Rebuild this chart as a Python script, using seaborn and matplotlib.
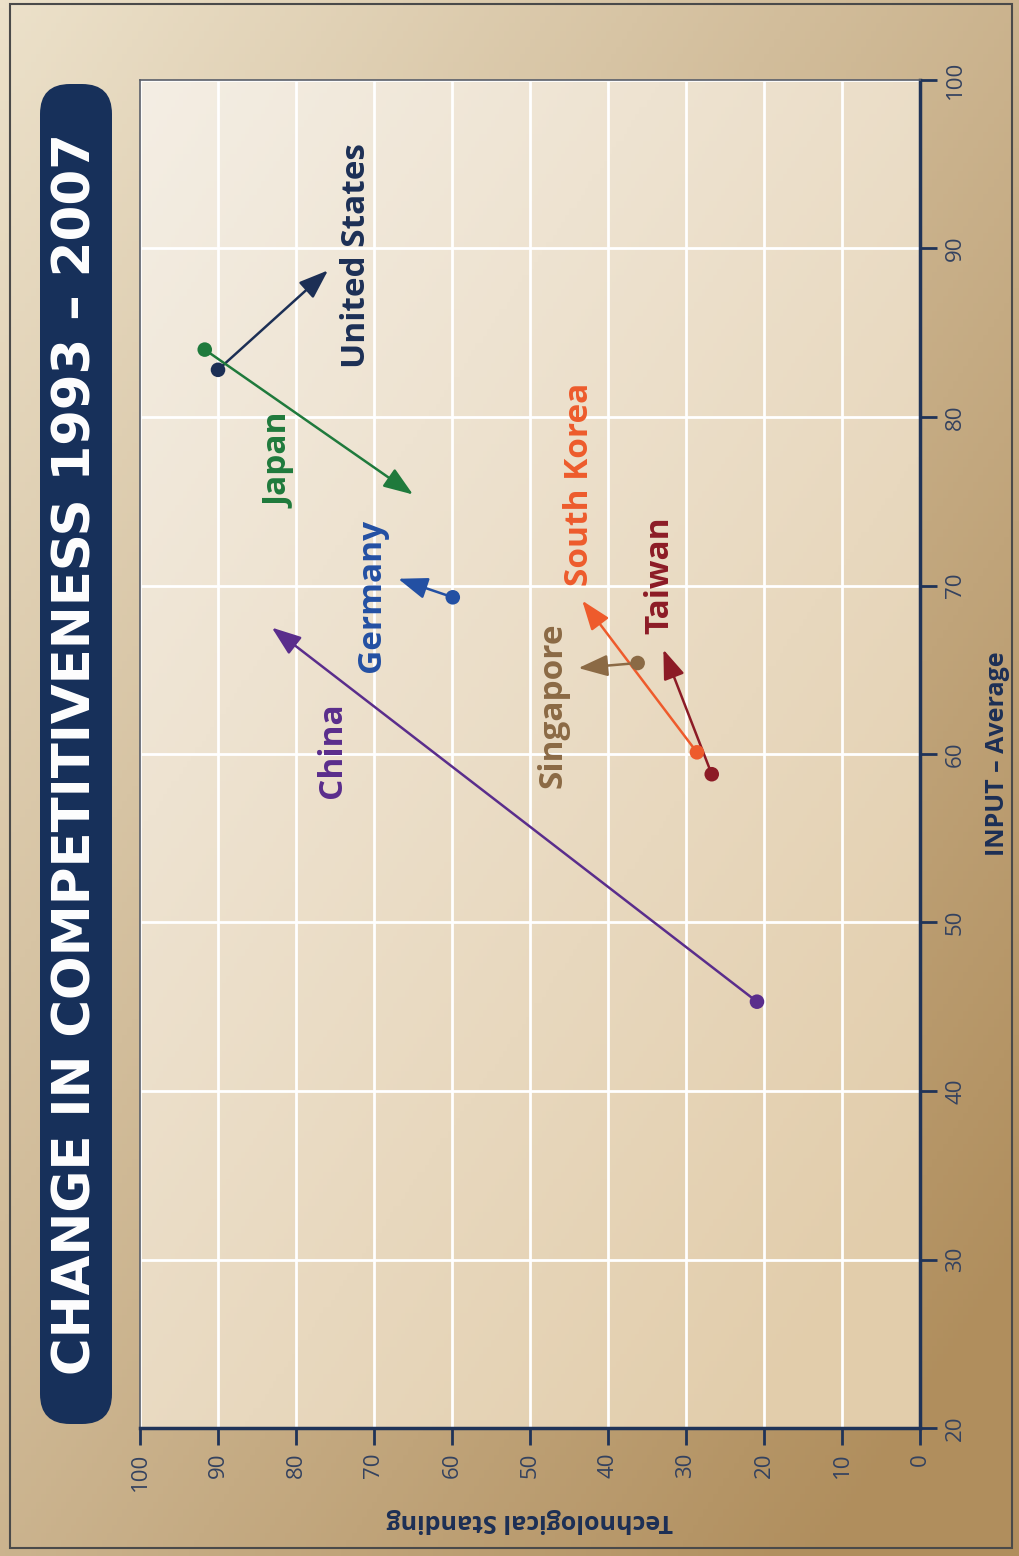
import numpy as np
import pandas as pd
import seaborn as sns
import matplotlib.pyplot as plt
from matplotlib.patches import FancyBboxPatch, Rectangle

# Data (start = 1993, end = 2007)
countries = ["United States", "Japan", "Germany", "China", "South Korea", "Taiwan", "Singapore"]
tech_1993 = [90.0, 91.7, 59.9, 20.9, 28.6, 26.7, 36.2]
input_1993 = [82.8, 84.0, 69.3, 45.3, 60.1, 58.8, 65.4]
tech_2007 = [75.9, 65.0, 66.9, 83.1, 43.3, 32.9, 43.8]
input_2007 = [88.7, 75.4, 70.4, 67.5, 69.1, 66.2, 65.1]
colors = ["#1c2f55", "#1f7a3c", "#2350a3", "#5a2d8c", "#ee5b2c", "#8c1b26", "#8b6a45"]

# label placement (tech, input)
label_tech = [72.2, 82.1, 70.3, 75.3, 43.6, 33.3, 47.0]
label_input = [89.6, 77.4, 69.4, 60.2, 76.0, 70.6, 62.9]

tech_ticks = list(range(0, 101, 10))
input_ticks = list(range(20, 101, 10))

df = pd.DataFrame({"country": countries, "tech": tech_1993, "input": input_1993})

sns.set_style("ticks")
plt.rcParams['font.family'] = ['Open Sans', 'DejaVu Sans']

W, H = 1019, 1556
fig = plt.figure(figsize=(W / 100, H / 100), dpi=100)

# background in pixel coordinates
bg = fig.add_axes([0, 0, 1, 1])
bg.set_xlim(0, W)
bg.set_ylim(H, 0)
bg.axis("off")
yy, xx = np.mgrid[0:1:200j, 0:1:200j]
t = np.clip(0.55 * xx + 0.55 * yy, 0, 1)[..., None]
light = np.array([0xec, 0xe1, 0xca]) / 255
dark = np.array([0xb0, 0x8e, 0x5d]) / 255
bg.imshow(light + (dark - light) * t, extent=[0, W, H, 0], aspect="auto", zorder=0)
bg.add_patch(Rectangle((10, 4), 1002, 1544, fill=False, ec="#4a4a4a", lw=1.5, zorder=1))
bg.add_patch(FancyBboxPatch((40, 84), 72, 1340, boxstyle="round,pad=0,rounding_size=30",
                            fc="#17305a", ec="none", zorder=2))
bg.text(77, 754, "CHANGE IN COMPETITIVENESS 1993 \u2013 2007", rotation=90,
        ha="center", va="center", color="white", fontsize=37, fontweight="bold",
        family="DejaVu Sans", zorder=3)

# plot area
ax = fig.add_axes([140 / W, 1 - 1428 / H, 780 / W, 1348 / H])
ax.set_xlim(100, 0)
ax.set_ylim(20, 100)
ax.patch.set_alpha(0)

yy2, xx2 = np.mgrid[0:1:200j, 0:1:200j]
t2 = np.clip(0.5 * xx2 + 0.6 * yy2, 0, 1)[..., None]
pl = np.array([0xf4, 0xee, 0xe4]) / 255
pd_ = np.array([0xe2, 0xcd, 0xab]) / 255
ax.imshow(pl + (pd_ - pl) * t2, extent=(100, 0, 20, 100), origin="upper",
          aspect="auto", zorder=-1)

ax.set_xticks(tech_ticks)
ax.set_yticks(input_ticks)
ax.grid(True, color="white", lw=2)
ax.set_axisbelow(True)

ax.yaxis.tick_right()
ax.yaxis.set_label_position("right")
ax.tick_params(axis="both", direction="out", length=12, width=2, color="#1f3358",
               labelcolor="#34425f", labelsize=16, pad=6)
for lab in ax.get_yticklabels():
    lab.set_rotation(90)
    lab.set_va("center")
    lab.set_ha("left")
for lab in ax.get_xticklabels():
    lab.set_rotation(90)
    lab.set_va("top")
    lab.set_ha("center")

for side in ["left", "top"]:
    ax.spines[side].set_color("#5a5f6a")
    ax.spines[side].set_linewidth(1.2)
for side in ["right", "bottom"]:
    ax.spines[side].set_color("#1f3358")
    ax.spines[side].set_linewidth(2.5)

# arrows from 1993 to 2007
for i in range(len(countries)):
    ax.annotate("", xy=(tech_2007[i], input_2007[i]), xytext=(tech_1993[i], input_1993[i]),
                arrowprops=dict(arrowstyle="-|>,head_length=0.9,head_width=0.33",
                                color=colors[i], lw=1.8, shrinkA=0, shrinkB=0,
                                mutation_scale=20), zorder=4)

sns.scatterplot(data=df, x="tech", y="input", hue="country", hue_order=countries,
                palette=colors, s=110, edgecolor="none", legend=False, ax=ax, zorder=5)

ax.set_ylabel("INPUT \u2013 Average", rotation=90, fontsize=18, fontweight="bold",
              color="#1c2f55", labelpad=14)
ax.set_xlabel("Technological Standing", rotation=180, fontsize=18, fontweight="bold",
              color="#1c2f55", labelpad=12)

for i, name in enumerate(countries):
    ax.text(label_tech[i], label_input[i], name, rotation=90, ha="center", va="center",
            color=colors[i], fontsize=24, fontweight="bold", zorder=6)

fig.savefig("out.png", dpi=100)
